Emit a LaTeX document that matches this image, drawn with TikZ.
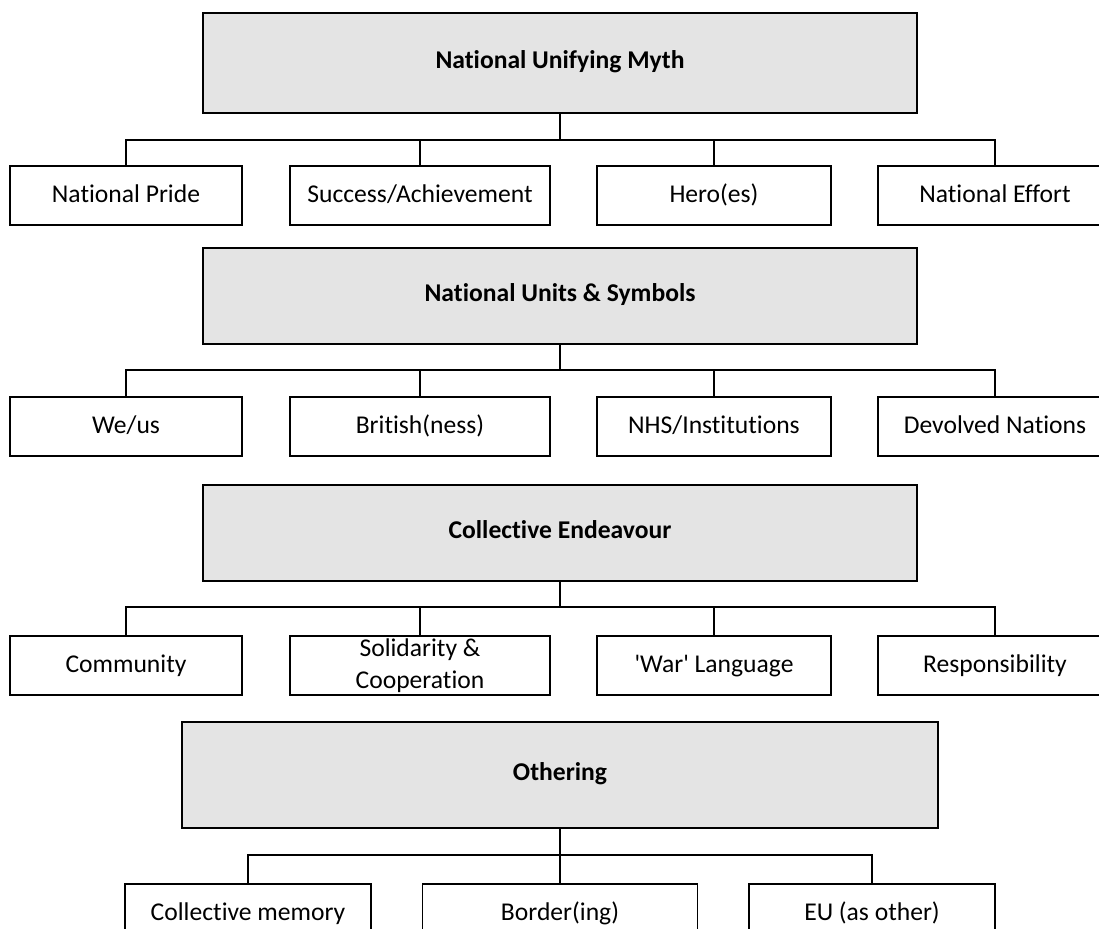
\documentclass[tikz,border=0pt]{standalone}
\usepackage{fontspec}
\setmainfont{Carlito}[Ligatures=NoCommon]
\usepackage{tikz}
\usetikzlibrary{positioning}
\definecolor{themegray}{HTML}{E4E4E4}

\begin{document}
\begin{tikzpicture}[
    node distance=25.5pt,
    theme/.style={rectangle, draw, fill=themegray, line width=0.9pt, minimum width=357pt, minimum height=48pt, text height=9pt, text depth=3pt, align=center, font=\fontsize{12.8}{15.5}\selectfont\bfseries},
    item/.style={rectangle, draw, fill=white, line width=0.9pt, minimum width=117pt, minimum height=29.5pt, text height=10pt, text depth=2.5pt, inner sep=1pt, align=center, font=\fontsize{12.8}{16}\selectfont},
    link/.style={line width=0.8pt}
]
\useasboundingbox (0,0) rectangle (549.5pt,-464.5pt);

% National Unifying Myth
\node[theme, minimum height=50pt] (myth) at (280pt,-31.5pt) {National Unifying Myth};
\node[item, minimum width=116pt, below=of myth, xshift=-217pt] (myth_pride) {National Pride};
\node[item, minimum width=130pt, below=of myth, xshift=-70pt] (myth_success) {Success/Achievement};
\node[item, below=of myth, xshift=77pt] (myth_hero) {Hero(es)};
\node[item, below=of myth, xshift=217.5pt] (myth_effort) {National Effort};

\draw[link] (myth.south) -- ++(0,-13pt) -| (myth_pride.north);
\draw[link] (myth.south) -- ++(0,-13pt) -| (myth_success.north);
\draw[link] (myth.south) -- ++(0,-13pt) -| (myth_hero.north);
\draw[link] (myth.south) -- ++(0,-13pt) -| (myth_effort.north);

% National Units & Symbols
\node[theme] (units) at (280pt,-148pt) {National Units \& Symbols};
\node[item, minimum width=116pt, below=of units, xshift=-217pt] (units_we) {We/us};
\node[item, minimum width=130pt, below=of units, xshift=-70pt] (units_british) {British(ness)};
\node[item, below=of units, xshift=77pt] (units_nhs) {NHS/Institutions};
\node[item, below=of units, xshift=217.5pt] (units_devolved) {Devolved Nations};

\draw[link] (units.south) -- ++(0,-12.5pt) -| (units_we.north);
\draw[link] (units.south) -- ++(0,-12.5pt) -| (units_british.north);
\draw[link] (units.south) -- ++(0,-12.5pt) -| (units_nhs.north);
\draw[link] (units.south) -- ++(0,-12.5pt) -| (units_devolved.north);

% Collective Endeavour
\node[theme] (endeavour) at (280pt,-266.5pt) {Collective Endeavour};
\node[item, minimum width=116pt, below=26.5pt of endeavour, xshift=-217pt] (end_community) {Community};
\node[item, minimum width=130pt, text height=, text depth=, below=26.5pt of endeavour, xshift=-70pt] (end_solidarity) {Solidarity \&\\Cooperation};
\node[item, below=26.5pt of endeavour, xshift=77pt] (end_war) {\textquotesingle War\textquotesingle{} Language};
\node[item, below=26.5pt of endeavour, xshift=217.5pt] (end_resp) {Responsibility};

\draw[link] (endeavour.south) -- ++(0,-12.5pt) -| (end_community.north);
\draw[link] (endeavour.south) -- ++(0,-12.5pt) -| (end_solidarity.north);
\draw[link] (endeavour.south) -- ++(0,-12.5pt) -| (end_war.north);
\draw[link] (endeavour.south) -- ++(0,-12.5pt) -| (end_resp.north);

% Othering
\node[theme, minimum width=378pt, minimum height=53pt] (othering) at (280pt,-387.5pt) {Othering};
\node[item, minimum width=123pt, below=27pt of othering, xshift=-156pt] (oth_memory) {Collective memory};
\node[item, minimum width=137.5pt, below=27pt of othering] (oth_border) {Border(ing)};
\node[item, minimum width=123pt, below=27pt of othering, xshift=156pt] (oth_eu) {EU (as other)};

\draw[link] (othering.south) -- ++(0,-13pt) -| (oth_memory.north);
\draw[link] (othering.south) -- (oth_border.north);
\draw[link] (othering.south) -- ++(0,-13pt) -| (oth_eu.north);

\end{tikzpicture}
\end{document}
